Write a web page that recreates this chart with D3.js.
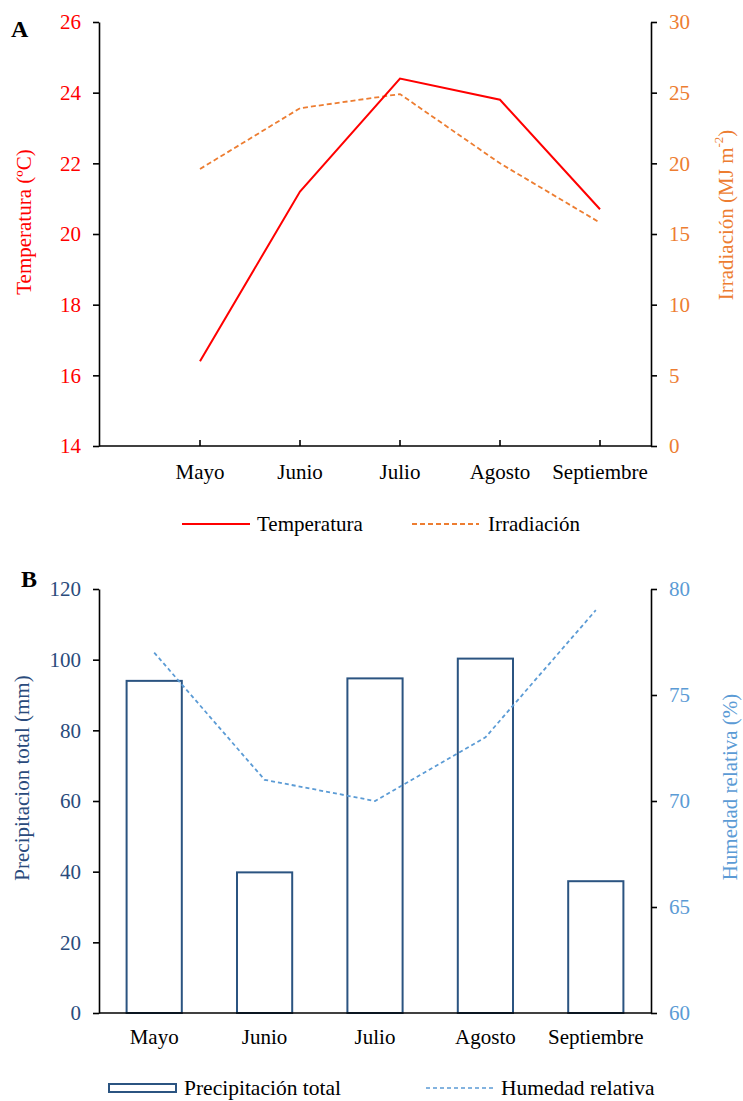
<!DOCTYPE html>
<html>
<head>
<meta charset="utf-8">
<script src="https://cdn.jsdelivr.net/npm/d3@7"></script>
<style>
  html, body { margin: 0; padding: 0; background: #fff; }
  svg { display: block; font-family: "Liberation Serif", "Times New Roman", serif; }
</style>
</head>
<body>
<svg id="chart" width="743" height="1101"></svg>
<script>
// Monthly climate data, May–September
const months = ["Mayo", "Junio", "Julio", "Agosto", "Septiembre"];
const temperatura = [16.4, 21.2, 24.4, 23.8, 20.7];      // ºC
const irradiacion = [19.6, 23.9, 24.9, 20.0, 15.8];      // MJ m-2
const precipitacion = [94.0, 39.8, 94.7, 100.3, 37.3];   // mm
const humedad = [77, 71, 70, 73, 79];                    // %

const tempTicks = [14, 16, 18, 20, 22, 24, 26];
const irrTicks = [0, 5, 10, 15, 20, 25, 30];
const precTicks = [0, 20, 40, 60, 80, 100, 120];
const humTicks = [60, 65, 70, 75, 80];

const RED = "#FF0000", ORANGE = "#ED7D31", NAVY = "#2A4B7C", BAR = "#2B5481", LIGHT = "#5B9BD5";
const FS = 21;
const SERIF = "'Liberation Serif', 'Times New Roman', serif";

const svg = d3.select("#chart");

function styleAxis(g, color) {
  g.attr("font-family", SERIF);
  g.selectAll(".domain").attr("stroke", "#000").attr("stroke-width", 1.6);
  g.selectAll(".tick line").attr("stroke", "#000").attr("stroke-width", 1.6);
  g.selectAll(".tick text").attr("fill", color).attr("font-size", FS).attr("font-family", SERIF);
}

/* ---------- Panel A: temperature and irradiation ---------- */
const A = { left: 99, right: 651, top: 22, bottom: 446 };
const xA = d3.scalePoint().domain(months).range([200, 600]);
const yTemp = d3.scaleLinear().domain([14, 26]).range([A.bottom, A.top]);
const yIrr = d3.scaleLinear().domain([0, 30]).range([A.bottom, A.top]);

const gA = svg.append("g");

// bottom axis line with inward tick marks
gA.append("line").attr("x1", A.left).attr("x2", A.right)
  .attr("y1", A.bottom).attr("y2", A.bottom).attr("stroke", "#000").attr("stroke-width", 1.6);
gA.selectAll(".xtickA").data(months).join("line")
  .attr("x1", d => xA(d)).attr("x2", d => xA(d))
  .attr("y1", A.bottom).attr("y2", A.bottom - 6)
  .attr("stroke", "#000").attr("stroke-width", 1.6);
gA.selectAll(".xlabA").data(months).join("text")
  .attr("x", d => xA(d)).attr("y", 479)
  .attr("text-anchor", "middle").attr("font-size", FS).attr("fill", "#000")
  .text(d => d);

const axLA = gA.append("g").attr("transform", `translate(${A.left},0)`)
  .call(d3.axisLeft(yTemp).tickValues(tempTicks).tickSize(6).tickPadding(12).tickSizeOuter(0));
styleAxis(axLA, RED);
const axRA = gA.append("g").attr("transform", `translate(${A.right},0)`)
  .call(d3.axisRight(yIrr).tickValues(irrTicks).tickSize(6).tickPadding(12).tickSizeOuter(0));
styleAxis(axRA, ORANGE);

// series lines
gA.append("path").datum(irradiacion)
  .attr("fill", "none").attr("stroke", ORANGE).attr("stroke-width", 1.8)
  .attr("stroke-dasharray", "5,3")
  .attr("d", d3.line().x((d, i) => xA(months[i])).y(d => yIrr(d)));
gA.append("path").datum(temperatura)
  .attr("fill", "none").attr("stroke", RED).attr("stroke-width", 2)
  .attr("d", d3.line().x((d, i) => xA(months[i])).y(d => yTemp(d)));

// axis titles
gA.append("text").attr("transform", "translate(24,222) rotate(-90)")
  .attr("text-anchor", "middle").attr("dominant-baseline", "central")
  .attr("font-size", FS).attr("fill", RED).text("Temperatura (ºC)");
const irrTitle = gA.append("text").attr("transform", "translate(726,215) rotate(-90)")
  .attr("text-anchor", "middle").attr("dominant-baseline", "central")
  .attr("font-size", FS).attr("fill", ORANGE);
irrTitle.append("tspan").text("Irradiación (MJ m");
irrTitle.append("tspan").attr("font-size", 13).attr("dy", -8).text("-2");
irrTitle.append("tspan").attr("dy", 8).text(")");

// panel letter
gA.append("text").attr("x", 11).attr("y", 37).attr("font-size", 24)
  .attr("font-weight", "bold").attr("fill", "#000").text("A");

// legend
gA.append("line").attr("x1", 182).attr("x2", 250).attr("y1", 524).attr("y2", 524)
  .attr("stroke", RED).attr("stroke-width", 2);
gA.append("text").attr("x", 257).attr("y", 531).attr("font-size", FS).attr("fill", "#000").text("Temperatura");
gA.append("line").attr("x1", 412).attr("x2", 479).attr("y1", 524).attr("y2", 524)
  .attr("stroke", ORANGE).attr("stroke-width", 1.8).attr("stroke-dasharray", "5,3");
gA.append("text").attr("x", 488).attr("y", 531).attr("font-size", FS).attr("fill", "#000").text("Irradiación");

/* ---------- Panel B: precipitation and relative humidity ---------- */
const B = { left: 99, right: 651, top: 589, bottom: 1013 };
const xB = d3.scaleBand().domain(months).range([B.left, B.right]).paddingInner(0.5).paddingOuter(0.25);
const yPrec = d3.scaleLinear().domain([0, 120]).range([B.bottom, B.top]);
const yHum = d3.scaleLinear().domain([60, 80]).range([B.bottom, B.top]);

const gB = svg.append("g");

gB.selectAll(".bar").data(precipitacion).join("rect")
  .attr("x", (d, i) => xB(months[i]))
  .attr("y", d => yPrec(d))
  .attr("width", xB.bandwidth())
  .attr("height", d => B.bottom - yPrec(d))
  .attr("fill", "#fff").attr("stroke", BAR).attr("stroke-width", 2);

gB.append("path").datum(humedad)
  .attr("fill", "none").attr("stroke", LIGHT).attr("stroke-width", 1.8)
  .attr("stroke-dasharray", "4,3")
  .attr("d", d3.line().x((d, i) => xB(months[i]) + xB.bandwidth() / 2).y(d => yHum(d)));

gB.append("line").attr("x1", B.left).attr("x2", B.right)
  .attr("y1", B.bottom).attr("y2", B.bottom).attr("stroke", "#000").attr("stroke-width", 1.6);
gB.selectAll(".xlabB").data(months).join("text")
  .attr("x", d => xB(d) + xB.bandwidth() / 2).attr("y", 1044)
  .attr("text-anchor", "middle").attr("font-size", FS).attr("fill", "#000")
  .text(d => d);

const axLB = gB.append("g").attr("transform", `translate(${B.left},0)`)
  .call(d3.axisLeft(yPrec).tickValues(precTicks).tickSize(6).tickPadding(12).tickSizeOuter(0));
styleAxis(axLB, NAVY);
const axRB = gB.append("g").attr("transform", `translate(${B.right},0)`)
  .call(d3.axisRight(yHum).tickValues(humTicks).tickSize(6).tickPadding(12).tickSizeOuter(0));
styleAxis(axRB, LIGHT);

gB.append("text").attr("transform", "translate(22,778) rotate(-90)")
  .attr("text-anchor", "middle").attr("dominant-baseline", "central")
  .attr("font-size", FS).attr("fill", NAVY).text("Precipitacion total (mm)");
gB.append("text").attr("transform", "translate(730,787) rotate(-90)")
  .attr("text-anchor", "middle").attr("dominant-baseline", "central")
  .attr("font-size", FS).attr("fill", LIGHT).text("Humedad relativa (%)");

gB.append("text").attr("x", 21).attr("y", 587).attr("font-size", 24)
  .attr("font-weight", "bold").attr("fill", "#000").text("B");

// legend
gB.append("rect").attr("x", 109).attr("y", 1084).attr("width", 67).attr("height", 8)
  .attr("fill", "#fff").attr("stroke", BAR).attr("stroke-width", 2);
gB.append("text").attr("x", 184).attr("y", 1095).attr("font-size", 21.5).attr("fill", "#000").text("Precipitación total");
gB.append("line").attr("x1", 426).attr("x2", 494).attr("y1", 1088).attr("y2", 1088)
  .attr("stroke", LIGHT).attr("stroke-width", 1.6).attr("stroke-dasharray", "4,3");
gB.append("text").attr("x", 501).attr("y", 1095).attr("font-size", 21.5).attr("fill", "#000").text("Humedad relativa");
</script>
</body>
</html>
